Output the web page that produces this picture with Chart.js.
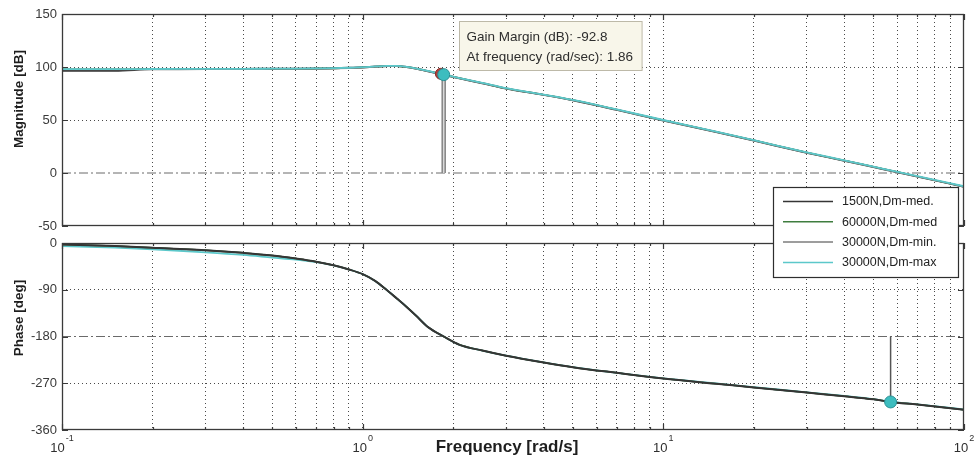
<!DOCTYPE html>
<html>
<head>
<meta charset="utf-8">
<script src="https://cdn.jsdelivr.net/npm/chart.js@4.4.1/dist/chart.umd.min.js"></script>
<style>
  html, body { margin: 0; padding: 0; background: #ffffff; }
  #wrap { position: relative; width: 976px; height: 462px; overflow: hidden; background: #ffffff; }
  #wrap canvas { position: absolute; left: 0; top: 0; }
</style>
</head>
<body>
<div id="wrap">
  <canvas id="magChart" width="976" height="462"></canvas>
  <canvas id="phaseChart" width="976" height="462"></canvas>
</div>
<script>
// ---- Bode data: shared frequency grid (rad/s) ----
const freq = [0.1, 0.15, 0.2, 0.3, 0.4, 0.5, 0.6, 0.7, 0.8, 0.9,
              1.0, 1.1, 1.2, 1.3, 1.4, 1.5, 1.65, 1.86, 2.1, 2.5,
              3, 4, 5, 7, 10, 15, 20, 30, 40, 50,
              57, 70, 100];

const seriesNames  = ['1500N,Dm-med.', '60000N,Dm-med', '30000N,Dm-min.', '30000N,Dm-max'];
const seriesColors = ['#353535', '#3f7d3f', '#7c7c7c', '#5cc8ca'];

// Magnitude [dB]
const mag1500N  = [96.5, 96.5, 98.0, 98.1, 98.2, 98.3, 98.4, 98.6, 98.8, 99.2,
                   99.7, 100.4, 100.9, 100.9, 100.1, 98.6, 96.0, 92.6, 89.3, 84.7,
                   79.7, 73.7, 68.6, 59.6, 49.6, 38.6, 30.6, 19.1, 11.6, 5.6,
                   2.1, -3.4, -12.9];
const mag60000N = [97.8, 97.8, 97.9, 98.0, 98.1, 98.2, 98.3, 98.5, 98.7, 99.1,
                   99.6, 100.3, 100.8, 100.8, 100.0, 98.6, 96.1, 92.7, 89.4, 84.8,
                   79.8, 73.8, 68.8, 59.8, 49.8, 38.8, 30.8, 19.3, 11.8, 5.8,
                   2.3, -3.2, -12.7];
const mag30000Nmin = [97.6, 97.6, 97.7, 97.8, 97.9, 98.0, 98.1, 98.3, 98.5, 98.9,
                      99.4, 100.1, 100.6, 100.6, 99.8, 98.4, 95.9, 92.5, 89.2, 84.6,
                      79.6, 73.6, 68.6, 59.6, 49.6, 38.6, 30.6, 19.1, 11.6, 5.6,
                      2.1, -3.4, -12.9];
const mag30000Nmax = [98.0, 98.0, 98.1, 98.2, 98.3, 98.4, 98.5, 98.7, 98.9, 99.3,
                      99.8, 100.5, 101.0, 101.0, 100.2, 98.8, 96.3, 92.8, 89.6, 85.0,
                      80.0, 74.0, 69.0, 60.0, 50.0, 39.0, 31.0, 19.5, 12.0, 6.0,
                      2.5, -3.0, -12.5];

// Phase [deg]
const phase1500N  = [-3, -6, -9, -14, -19, -24, -30, -36, -43, -51,
                     -60, -73, -90, -107, -123, -139, -162, -180, -196, -207,
                     -217, -230, -239, -250, -261, -271, -278, -288, -295, -301,
                     -306, -311, -321];
const phase60000N = [-3, -6, -9, -14, -19, -24, -30, -36, -43, -51,
                     -60, -73, -90, -107, -123, -139, -162, -180, -196, -207,
                     -217, -230, -239, -250, -261, -271, -278, -288, -295, -301,
                     -306, -311, -321];
const phase30000Nmin = [-3, -6, -9, -14, -19, -24, -30, -36, -43, -51,
                        -60, -73, -90, -107, -123, -139, -162, -180, -196, -207,
                        -217, -230, -239, -250, -261, -271, -278, -288, -295, -301,
                        -306, -311, -321];
const phase30000Nmax = [-6, -9, -12, -18, -23, -28, -32, -37, -43, -51,
                        -60, -73, -90, -107, -123, -139, -162, -180, -196, -207,
                        -217, -230, -239, -250, -260.5, -270.5, -277.5, -287.5, -294.5, -300.5,
                        -305.5, -310.5, -320.5];

// Stability margin readouts
const gmFreq = 1.86;          // phase crossover (rad/s)
const gainMarginDb = -92.8;   // gain margin (dB)
const gmNeighbour = { x: 1.82, y: 93.6 };   // crossover marker of another load case
const pmFreq = 57;            // gain crossover (rad/s)
const pmPhase = -306;         // phase at gain crossover (deg)

// Axis ticks
const decadeValues = [0.1, 1, 10, 100];
const decadeExponents = ['-1', '0', '1', '2'];
const gridMultipliers = [1, 2, 3, 4, 5, 6, 7, 8, 9];
const magTicks = { min: -50, max: 150, step: 50 };
const phaseTicks = { min: -360, max: 0, step: 90 };

// ---- helpers ----
const FONT = '"Liberation Sans", Arial, Helvetica, sans-serif';
Chart.defaults.font.family = FONT;
const TRANSPARENT = 'rgba(0,0,0,0)';
const GRID = '#4a4a4a';

const toPoints = ys => freq.map((f, i) => ({ x: f, y: ys[i] }));
const isDecade = v => Math.abs(Math.log10(v) - Math.round(Math.log10(v))) < 1e-9;

function setLogTicks(scale) {
  const vals = [];
  decadeValues.slice(0, -1).forEach(d => gridMultipliers.forEach(m => vals.push(+(d * m).toPrecision(6))));
  vals.push(decadeValues[decadeValues.length - 1]);
  scale.ticks = vals.map(v => ({ value: v }));
}

function xAxis() {
  return {
    type: 'logarithmic',
    min: decadeValues[0],
    max: decadeValues[decadeValues.length - 1],
    afterBuildTicks: setLogTicks,
    afterFit: s => { s.height = 0; },
    ticks: { display: false },
    grid: {
      drawTicks: false,
      lineWidth: 1,
      color: c => (c.tick && (c.tick.value <= decadeValues[0] * 1.0001 || c.tick.value >= decadeValues[decadeValues.length - 1] * 0.9999)) ? TRANSPARENT : GRID
    },
    border: { display: false, dash: [1, 3] }
  };
}

function yAxis(t, refValue) {
  return {
    type: 'linear',
    min: t.min, max: t.max,
    afterFit: s => { s.width = 62; },
    ticks: { stepSize: t.step, padding: 5, color: '#3a3a3a', font: { size: 13 } },
    grid: {
      drawTicks: false,
      lineWidth: 1,
      color: c => (c.tick && (c.tick.value === t.min || c.tick.value === t.max || c.tick.value === refValue)) ? TRANSPARENT : GRID
    },
    border: { display: false, dash: [1, 3] }
  };
}

function curve(label, ys, color, width, order) {
  return {
    label, data: toPoints(ys), borderColor: color, backgroundColor: color,
    borderWidth: width, pointRadius: 0, cubicInterpolationMode: 'monotone',
    order, inLegend: true
  };
}

function refLine(value) {
  return {
    label: 'ref', data: [{ x: decadeValues[0], y: value }, { x: decadeValues[decadeValues.length - 1], y: value }],
    borderColor: '#6a6a6a', borderWidth: 1, borderDash: [9, 3, 2, 3], pointRadius: 0, order: 20
  };
}

// MATLAB-style box with inward tick marks
function drawFrame(chart) {
  const { ctx, chartArea: a, scales: { x, y } } = chart;
  ctx.save();
  ctx.strokeStyle = '#3a3a3a';
  ctx.lineWidth = 1.3;
  ctx.strokeRect(a.left + 0.5, a.top + 0.5, a.right - a.left - 1, a.bottom - a.top - 1);
  ctx.lineWidth = 1.2;
  ctx.beginPath();
  x.ticks.forEach(t => {
    const px = Math.round(x.getPixelForValue(t.value)) + 0.5;
    const len = isDecade(t.value) ? 6 : 3;
    ctx.moveTo(px, a.bottom); ctx.lineTo(px, a.bottom - len);
    ctx.moveTo(px, a.top); ctx.lineTo(px, a.top + len);
  });
  y.ticks.forEach(t => {
    const py = Math.round(y.getPixelForValue(t.value)) + 0.5;
    ctx.moveTo(a.left, py); ctx.lineTo(a.left + 6, py);
    ctx.moveTo(a.right, py); ctx.lineTo(a.right - 6, py);
  });
  ctx.stroke();
  ctx.restore();
}

function drawYTitle(ctx, text, cx, cy) {
  ctx.save();
  ctx.translate(cx, cy);
  ctx.rotate(-Math.PI / 2);
  ctx.font = 'bold 13.5px ' + FONT;
  ctx.fillStyle = '#1e1e1e';
  ctx.textAlign = 'center';
  ctx.textBaseline = 'middle';
  ctx.fillText(text, 0, 0);
  ctx.restore();
}

// ---- Magnitude chart ----
const magPlugin = {
  id: 'magDecor',
  afterDatasetsDraw(chart) {
    drawFrame(chart);
    const { ctx, scales: { x } } = chart;
    drawYTitle(ctx, 'Magnitude [dB]', 19, 99);

    // data tip for the gain margin
    const px = x.getPixelForValue(gmFreq);
    const lines = ['Gain Margin (dB): ' + gainMarginDb.toFixed(1), 'At frequency (rad/sec): ' + gmFreq.toFixed(2)];
    ctx.save();
    ctx.font = '13.5px ' + FONT;
    const w = Math.max(...lines.map(s => ctx.measureText(s).width)) + 16;
    const bx = Math.round(px + 15) + 0.5, by = 21.5, bh = 49;
    ctx.fillStyle = '#f8f6ea';
    ctx.strokeStyle = '#bdb9a8';
    ctx.lineWidth = 1;
    ctx.fillRect(bx, by, w, bh);
    ctx.strokeRect(bx, by, w, bh);
    ctx.fillStyle = '#2e2e2e';
    ctx.textAlign = 'left';
    ctx.textBaseline = 'alphabetic';
    ctx.fillText(lines[0], bx + 7, 41);
    ctx.fillText(lines[1], bx + 7, 61);
    ctx.restore();
  }
};

new Chart(document.getElementById('magChart'), {
  type: 'line',
  data: {
    datasets: [
      curve(seriesNames[3], mag30000Nmax, seriesColors[3], 1.8, 1),
      curve(seriesNames[2], mag30000Nmin, seriesColors[2], 1.5, 2),
      curve(seriesNames[1], mag60000N, seriesColors[1], 1.5, 3),
      curve(seriesNames[0], mag1500N, seriesColors[0], 2, 4),
      { label: 'gm stem', data: [{ x: gmFreq, y: 0 }, { x: gmFreq, y: -gainMarginDb }],
        borderColor: '#d9d9d9', borderWidth: 1.5, pointRadius: 0, order: 9 },
      { label: 'gm stem', data: [{ x: gmFreq, y: 0 }, { x: gmFreq, y: -gainMarginDb }],
        borderColor: '#858585', borderWidth: 4.5, pointRadius: 0, order: 10 },
      refLine(0),
      { label: 'gm point', data: [gmNeighbour], showLine: false, pointRadius: 5.5,
        pointBackgroundColor: '#b0403a', pointBorderColor: '#8a2a26', pointBorderWidth: 1, order: -1 },
      { label: 'gm point', data: [{ x: gmFreq, y: -gainMarginDb }], showLine: false, pointRadius: 6,
        pointBackgroundColor: '#3dbdbf', pointBorderColor: '#2a9094', pointBorderWidth: 1, order: -2 }
    ]
  },
  options: {
    responsive: false,
    animation: false,
    events: [],
    layout: { padding: { left: 0, top: 14, right: 12, bottom: 236 } },
    scales: { x: xAxis(), y: yAxis(magTicks, 0) },
    plugins: { legend: { display: false }, tooltip: { enabled: false } }
  },
  plugins: [magPlugin]
});

// ---- Phase chart ----
const phasePlugin = {
  id: 'phaseDecor',
  afterDatasetsDraw(chart) {
    drawFrame(chart);
    const { ctx, scales: { x } } = chart;
    drawYTitle(ctx, 'Phase [deg]', 19, 318);

    // decade labels 10^n
    ctx.save();
    ctx.fillStyle = '#2e2e2e';
    ctx.textBaseline = 'alphabetic';
    ctx.textAlign = 'left';
    decadeValues.forEach((v, i) => {
      const px = x.getPixelForValue(v);
      ctx.font = '13px ' + FONT;
      const wb = ctx.measureText('10').width;
      ctx.font = '9px ' + FONT;
      const we = ctx.measureText(decadeExponents[i]).width;
      const left = px - (wb + we + 1) / 2;
      ctx.font = '13px ' + FONT;
      ctx.fillText('10', left, 452);
      ctx.font = '9px ' + FONT;
      ctx.fillText(decadeExponents[i], left + wb + 1, 441);
    });

    // x axis title
    ctx.font = 'bold 17px ' + FONT;
    ctx.fillStyle = '#1e1e1e';
    ctx.textAlign = 'center';
    ctx.textBaseline = 'middle';
    ctx.fillText('Frequency [rad/s]', 507, 447);
    ctx.restore();
  },
  afterDraw(chart) {
    // legend box
    const { ctx } = chart;
    const entries = chart.data.datasets.filter(d => d.inLegend)
      .sort((p, q) => seriesNames.indexOf(p.label) - seriesNames.indexOf(q.label));
    const bx = 773.5, by = 187.5, bw = 185, bh = 90;
    ctx.save();
    ctx.fillStyle = '#ffffff';
    ctx.fillRect(bx, by, bw, bh);
    ctx.strokeStyle = '#2e2e2e';
    ctx.lineWidth = 1.2;
    ctx.strokeRect(bx, by, bw, bh);
    ctx.font = '12.5px ' + FONT;
    ctx.textAlign = 'left';
    ctx.textBaseline = 'middle';
    entries.forEach((d, i) => {
      const ly = 201.5 + i * 20.3;
      ctx.strokeStyle = d.borderColor;
      ctx.lineWidth = 1.5;
      ctx.beginPath();
      ctx.moveTo(783, ly);
      ctx.lineTo(833, ly);
      ctx.stroke();
      ctx.fillStyle = '#222222';
      ctx.fillText(d.label, 842, ly + 0.5);
    });
    ctx.restore();
  }
};

new Chart(document.getElementById('phaseChart'), {
  type: 'line',
  data: {
    datasets: [
      curve(seriesNames[0], phase1500N, seriesColors[0], 2, 1),
      curve(seriesNames[1], phase60000N, seriesColors[1], 1.5, 2),
      curve(seriesNames[2], phase30000Nmin, seriesColors[2], 1.5, 3),
      curve(seriesNames[3], phase30000Nmax, seriesColors[3], 1.8, 4),
      { label: 'pm stem', data: [{ x: pmFreq, y: -180 }, { x: pmFreq, y: pmPhase }],
        borderColor: '#555555', borderWidth: 1.5, pointRadius: 0, order: 0 },
      refLine(-180),
      { label: 'pm point', data: [{ x: pmFreq, y: pmPhase }], showLine: false, pointRadius: 6,
        pointBackgroundColor: '#3dbdbf', pointBorderColor: '#2a9094', pointBorderWidth: 1, order: -2 }
    ]
  },
  options: {
    responsive: false,
    animation: false,
    events: [],
    layout: { padding: { left: 0, top: 243, right: 12, bottom: 32 } },
    scales: { x: xAxis(), y: yAxis(phaseTicks, -180) },
    plugins: { legend: { display: false }, tooltip: { enabled: false } }
  },
  plugins: [phasePlugin]
});
</script>
</body>
</html>
